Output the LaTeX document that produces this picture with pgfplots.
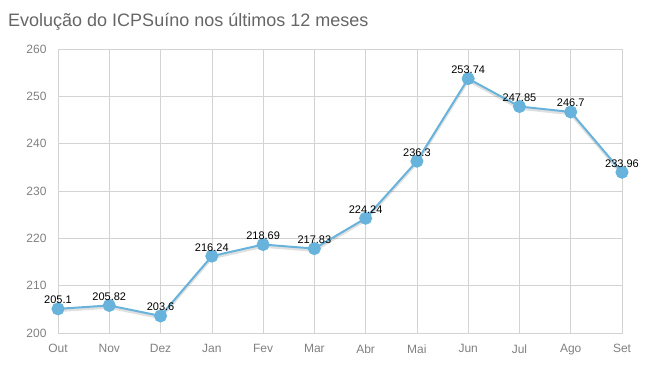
\documentclass[border=0pt]{standalone}
\usepackage{pgfplots}
\pgfplotsset{compat=1.18}
\usepackage{pgfplotstable}
\usepackage{fontspec}
\setmainfont{Liberation Sans}
\definecolor{linec}{HTML}{67B3DB}
\definecolor{gridc}{HTML}{D3D3D3}
\definecolor{tickc}{HTML}{808080}
\definecolor{titlec}{HTML}{666666}
\pgfplotstableread{
x y lab
0 205.1 205.1
1 205.82 205.82
2 203.6 203.6
3 216.24 216.24
4 218.69 218.69
5 217.83 217.83
6 224.24 224.24
7 236.3 236.3
8 253.74 253.74
9 247.85 247.85
10 246.7 246.7
11 233.96 233.96
}\data
\begin{document}
\begin{tikzpicture}
\clip (-58bp,-44bp) rectangle (594bp,333bp);
\begin{axis}[
  at={(0,0)}, anchor=south west,
  scale only axis, width=564bp, height=284bp,
  xmin=0, xmax=11, ymin=200, ymax=260,
  xtick={0,...,11},
  xticklabels={Out,Nov,Dez,Jan,Fev,Mar,Abr,Mai,Jun,Jul,Ago,Set},
  ytick={200,210,...,260},
  grid=major,
  major grid style={gridc, line width=0.6bp},
  axis line style={gridc, line width=0.6bp},
  major tick length=0pt,
  tick label style={font=\fontsize{12bp}{14bp}\selectfont, text=tickc},
  yticklabel style={xshift=-8bp},
  xticklabel style={yshift=-8bp},
  /pgf/number format/assume math mode=true,
  clip=false,
]
\addplot[black, opacity=0.12, line width=2.5bp, no marks, yshift=-2bp] table[x=x,y=y] {\data};
\addplot[linec, line width=2bp, mark=*, mark size=5.5bp,
  mark options={fill=linec, draw=linec},
  point meta=explicit symbolic,
  nodes near coords={\pgfplotspointmeta},
  every node near coord/.style={font=\fontsize{11bp}{13bp}\selectfont, text=black, anchor=south, inner sep=0pt, yshift=4bp}
] table[x=x,y=y,meta=lab] {\data};
\end{axis}
\node[anchor=base west, inner sep=0pt, text=titlec, font=\fontsize{18bp}{21bp}\selectfont] at (-50bp,306bp) {Evolução do ICPSuíno nos últimos 12 meses};
\end{tikzpicture}
\end{document}
